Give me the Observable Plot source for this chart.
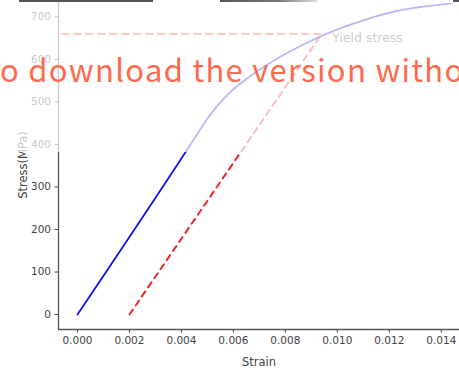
<!DOCTYPE html>
<html>
<head>
<meta charset="utf-8">
<script src="https://cdn.jsdelivr.net/npm/d3@7"></script>
<script src="https://cdn.jsdelivr.net/npm/@observablehq/plot@0.6"></script>
<style>
  html, body { margin: 0; padding: 0; background: #fff; }
  #wrap { position: relative; width: 459px; height: 368px; overflow: hidden; background: #fff; }
  #fade { position: absolute; left: 0; top: 0; width: 459px; height: 152px; background: rgba(255,255,255,0.7); pointer-events: none; }
  .bar { position: absolute; top: 0; height: 2px; background: #555; }
  #wm { position: absolute; left: 0px; top: 53px; font-family: "Noto Sans CJK SC", "Noto Sans", sans-serif; font-size: 31px; letter-spacing: 1.3px; color: #ff6a4d; white-space: nowrap; line-height: 1; }
  svg [aria-label="y-axis label"] text, svg [aria-label="x-axis label"] text { font-size: 11.5px; }
</style>
</head>
<body>
<div id="wrap"></div>
<script>
// Stress-strain curve (strain, stress in MPa)
const curveStrain = [0, 0.0045, 0.00486, 0.00537, 0.00588, 0.0064, 0.00691, 0.00755, 0.0086, 0.00946, 0.0101, 0.011, 0.0124, 0.01435];
const curveStress = [0, 414, 448, 490, 523, 549, 572, 597, 632, 657, 673, 692, 715, 731];
// 0.2% offset line
const offsetStrain = [0.002, 0.0094];
const offsetStress = [0, 660];
// yield stress line
const yieldStrain = [-0.0006, 0.0094];
const yieldStress = [660, 660];
const yieldLabel = "Yield stress";
const xTicks = [0, 0.002, 0.004, 0.006, 0.008, 0.010, 0.012, 0.014];
const yTicks = [0, 100, 200, 300, 400, 500, 600, 700];
const xDomain = [-0.00073, 0.0147];
const yDomain = [-35.2, 738.5];

const curve = curveStrain.map((s, i) => ({x: s, y: curveStress[i]}));
const offset = offsetStrain.map((s, i) => ({x: s, y: offsetStress[i]}));
const yieldLine = yieldStrain.map((s, i) => ({x: s, y: yieldStress[i]}));

const chart = Plot.plot({
  width: 459,
  height: 368,
  marginLeft: 58,
  marginRight: 0,
  marginTop: 0,
  marginBottom: 39,
  style: {fontFamily: "DejaVu Sans", fontSize: "10.5px", color: "#444", background: "transparent"},
  x: {domain: xDomain},
  y: {domain: yDomain},
  marks: [
    Plot.ruleX([xDomain[0]], {stroke: "#555", strokeWidth: 1.3}),
    Plot.ruleY([yDomain[0]], {stroke: "#555", strokeWidth: 1.3}),
    Plot.axisX({ticks: xTicks, tickFormat: d3.format(".3f"), tickSize: 3.5, tickPadding: 4, label: "Strain", labelAnchor: "center", labelOffset: 36, labelArrow: "none", fontSize: 10.5}),
    Plot.axisY({ticks: yTicks, tickSize: 3.5, tickPadding: 4, label: "Stress(MPa)", labelAnchor: "center", labelOffset: 40, labelArrow: "none", fontSize: 10.5}),
    Plot.line(yieldLine, {x: "x", y: "y", stroke: "#ff3030", strokeWidth: 1.6, strokeDasharray: "7,5"}),
    Plot.line(offset, {x: "x", y: "y", stroke: "#e8282a", strokeWidth: 2, strokeDasharray: "6,5"}),
    Plot.line(curve, {x: "x", y: "y", stroke: "#1414e8", strokeWidth: 1.8, curve: "monotone-x"}),
    Plot.text([{x: 0.0098, y: 650, t: yieldLabel}], {x: "x", y: "y", text: "t", textAnchor: "start", fontSize: 12.5, fill: "#505050"})
  ]
});

const wrap = document.getElementById("wrap");
wrap.appendChild(chart);
const fade = document.createElement("div"); fade.id = "fade"; wrap.appendChild(fade);
[[19, 134, "#555"], [220, 97, "linear-gradient(90deg,#555,#777 60%,#ddd)"], [453, 6, "#555"]].forEach(([l, w, bg]) => {
  const b = document.createElement("div"); b.className = "bar";
  b.style.left = l + "px"; b.style.width = w + "px"; b.style.background = bg; wrap.appendChild(b);
});
const wm = document.createElement("div"); wm.id = "wm"; wm.textContent = "o download the version witho"; wrap.appendChild(wm);
</script>
</body>
</html>
